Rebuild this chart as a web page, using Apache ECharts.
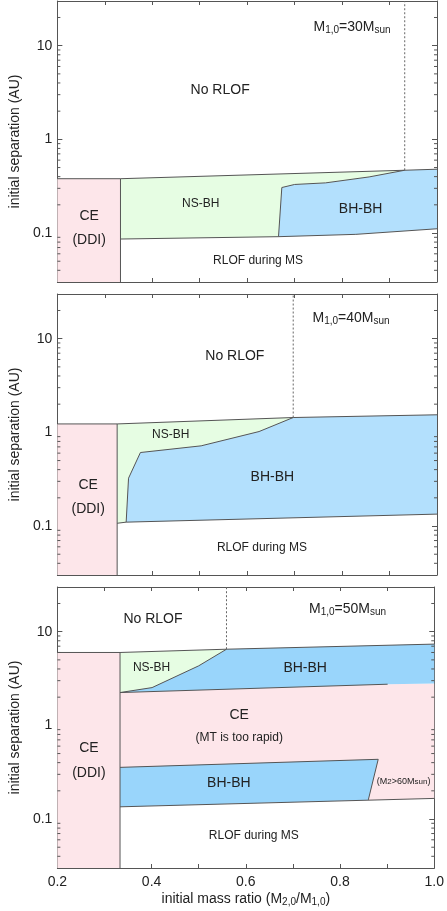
<!DOCTYPE html>
<html>
<head>
<meta charset="utf-8">
<script src="https://cdn.jsdelivr.net/npm/echarts@6/dist/echarts.min.js"></script>
<style>html,body{margin:0;padding:0;background:#fff;}#c{width:447px;height:911px;}</style>
</head>
<body>
<div id="c"></div>
<script>
// ---------- axis ranges & ticks ----------
const X_MIN = 0.2, X_MAX = 1.0, X_STEP = 0.1;
const Y_MIN = 0.03, Y_MAX = 30;
const yMinorTicks = [0.04,0.05,0.06,0.07,0.08,0.09,0.2,0.3,0.4,0.5,0.6,0.7,0.8,0.9,2,3,4,5,6,7,8,9,20];

// ---------- colours ----------
const PINK = '#fde6ea', GREEN = '#e6fde3', BLUE1 = '#b3e0fd', BLUE3 = '#99d5fb';

// ---------- Panel 1 : M1,0 = 30 Msun ----------
const ceDDI30_x = [0.2, 0.333, 0.333, 0.2];
const ceDDI30_y = [0.03, 0.03, 0.38, 0.38];
const nsbh30_x = [0.333, 0.932, 0.857, 0.765, 0.700, 0.673, 0.666, 0.333];
const nsbh30_y = [0.38, 0.468, 0.397, 0.343, 0.330, 0.306, 0.0914, 0.0863];
const bhbh30_x = [0.666, 0.673, 0.700, 0.765, 0.857, 0.932, 1.0, 1.0, 0.829];
const bhbh30_y = [0.0914, 0.306, 0.330, 0.343, 0.397, 0.468, 0.48, 0.111, 0.0968];
const upper30_x = [0.2, 0.333, 0.932, 1.0];
const upper30_y = [0.38, 0.38, 0.468, 0.48];
const lower30_x = [0.333, 0.666, 0.829, 1.0];
const lower30_y = [0.0863, 0.0914, 0.0968, 0.111];
const split30_x = [0.666, 0.673, 0.700, 0.765, 0.857, 0.932];
const split30_y = [0.0914, 0.306, 0.330, 0.343, 0.397, 0.468];
const ddiEdge30_x = [0.333, 0.333], ddiEdge30_y = [0.03, 0.38];
const dotted30_x = [0.932, 0.932], dotted30_y = [0.468, 30];
const labels30 = ['M{s|1,0}=30M{s|sun}', 'No RLOF', 'NS-BH', 'BH-BH', 'CE', '(DDI)', 'RLOF during MS'];
const labels30_x = [0.821, 0.543, 0.502, 0.839, 0.267, 0.267, 0.623];
const labels30_y = [15.9, 3.38, 0.204, 0.18, 0.152, 0.0843, 0.0504];
const labels30_size = [14, 14, 12, 14, 14, 14, 12];

// ---------- Panel 2 : M1,0 = 40 Msun ----------
const ceDDI40_x = [0.2, 0.326, 0.326, 0.2];
const ceDDI40_y = [0.03, 0.03, 1.23, 1.23];
const nsbh40_x = [0.326, 0.697, 0.625, 0.503, 0.375, 0.350, 0.345, 0.326];
const nsbh40_y = [1.23, 1.44, 1.02, 0.718, 0.609, 0.324, 0.110, 0.107];
const bhbh40_x = [0.345, 0.350, 0.375, 0.503, 0.625, 0.697, 1.0, 1.0];
const bhbh40_y = [0.110, 0.324, 0.609, 0.718, 1.02, 1.44, 1.54, 0.134];
const upper40_x = [0.2, 0.326, 0.697, 1.0];
const upper40_y = [1.23, 1.23, 1.44, 1.54];
const lower40_x = [0.326, 0.345, 1.0];
const lower40_y = [0.107, 0.110, 0.134];
const split40_x = [0.345, 0.350, 0.375, 0.503, 0.625, 0.697];
const split40_y = [0.110, 0.324, 0.609, 0.718, 1.02, 1.44];
const ddiEdge40_x = [0.326, 0.326], ddiEdge40_y = [0.03, 1.23];
const dotted40_x = [0.697, 0.697], dotted40_y = [1.44, 30];
const labels40 = ['M{s|1,0}=40M{s|sun}', 'No RLOF', 'NS-BH', 'BH-BH', 'CE', '(DDI)', 'RLOF during MS'];
const labels40_x = [0.819, 0.574, 0.439, 0.653, 0.265, 0.265, 0.631];
const labels40_y = [16.7, 6.46, 0.942, 0.330, 0.275, 0.152, 0.058];
const labels40_size = [14, 14, 12, 14, 14, 14, 12];

// ---------- Panel 3 : M1,0 = 50 Msun ----------
const ceDDI50_x = [0.2, 0.333, 0.333, 0.2];
const ceDDI50_y = [0.03, 0.03, 6.0, 6.0];
const nsbh50_x = [0.333, 0.559, 0.500, 0.401, 0.333];
const nsbh50_y = [6.0, 6.5, 4.32, 2.53, 2.24];
const bhbhTop50_x = [0.333, 0.401, 0.500, 0.559, 1.0, 1.0, 0.901];
const bhbhTop50_y = [2.24, 2.53, 4.32, 6.5, 7.37, 2.79, 2.75];
const ceMT50_x = [0.333, 0.901, 1.0, 1.0, 0.333];
const ceMT50_y = [2.24, 2.75, 2.79, 0.166, 0.135];
const bhbhLow50_x = [0.333, 0.881, 0.860, 0.333];
const bhbhLow50_y = [0.356, 0.434, 0.160, 0.135];
const upper50_x = [0.2, 0.333, 0.559, 1.0];
const upper50_y = [6.0, 6.0, 6.5, 7.37];
const split50_x = [0.333, 0.401, 0.500, 0.559];
const split50_y = [2.24, 2.53, 4.32, 6.5];
const ceTop50_x = [0.333, 0.901];
const ceTop50_y = [2.24, 2.75];
const lowBand50_x = [0.333, 0.881, 0.860];
const lowBand50_y = [0.356, 0.434, 0.160];
const lower50_x = [0.333, 1.0];
const lower50_y = [0.135, 0.166];
const ddiEdge50_x = [0.333, 0.333], ddiEdge50_y = [0.03, 6.0];
const dotted50_x = [0.559, 0.559], dotted50_y = [6.5, 30];
const labels50 = ['M{s|1,0}=50M{s|sun}', 'No RLOF', 'NS-BH', 'BH-BH', 'CE', '(MT is too rapid)', 'BH-BH', '(M{ss|2}>60M{ss|sun})', 'CE', '(DDI)', 'RLOF during MS'];
const labels50_x = [0.816, 0.403, 0.400, 0.726, 0.586, 0.586, 0.564, 0.935, 0.267, 0.267, 0.617];
const labels50_y = [17.5, 13.7, 4.08, 4.08, 1.29, 0.746, 0.244, 0.250, 0.569, 0.308, 0.066];
const labels50_size = [14, 14, 12, 14, 14, 12, 14, 9, 14, 14, 12];

// ---------- helpers ----------
const FONT = '"Liberation Sans", Arial, Helvetica, sans-serif';
const TXT = '#222';
const EDGE = '#555';

function pairs(xs, ys) { return xs.map((x, i) => [x, ys[i]]); }

function polySeries(g, xs, ys, color) {
  const pts = pairs(xs, ys);
  return {
    type: 'custom', xAxisIndex: 2 * g, yAxisIndex: 2 * g, silent: true, animation: false, z: 1,
    data: pts, encode: { x: 0, y: 1 },
    renderItem: (params, api) => {
      if (params.dataIndex !== 0) return null;
      return { type: 'polygon', shape: { points: pts.map(p => api.coord(p)) }, style: { fill: color } };
    }
  };
}

function lineSeries(g, xs, ys, dotted) {
  return {
    type: 'line', xAxisIndex: 2 * g, yAxisIndex: 2 * g, data: pairs(xs, ys),
    showSymbol: false, symbol: 'none', silent: true, animation: false, z: 3,
    lineStyle: dotted ? { color: '#666', width: 1, type: [2, 2] } : { color: EDGE, width: 1 }
  };
}

function labelSeries(g, texts, xs, ys, sizes) {
  const pts = pairs(xs, ys);
  return {
    type: 'custom', xAxisIndex: 2 * g, yAxisIndex: 2 * g, silent: true, animation: false, z: 5,
    data: pts, encode: { x: 0, y: 1 },
    renderItem: (params, api) => {
      const i = params.dataIndex;
      const p = api.coord(pts[i]);
      const fs = sizes[i];
      return {
        type: 'text', x: p[0], y: p[1],
        style: {
          text: texts[i], fontSize: fs, fontFamily: FONT, fill: TXT,
          align: 'center', verticalAlign: 'middle',
          rich: {
            s: { fontSize: Math.round(fs * 0.72), fontFamily: FONT, fill: TXT, verticalAlign: 'bottom', padding: [0, 0, -1, 0] },
            ss: { fontSize: Math.round(fs * 0.85), fontFamily: FONT, fill: TXT, verticalAlign: 'bottom' }
          }
        }
      };
    }
  };
}

function minorTickSeries(g) {
  return {
    type: 'custom', xAxisIndex: 2 * g, yAxisIndex: 2 * g, silent: true, animation: false, z: 6,
    data: yMinorTicks.map(v => [X_MIN, v]), encode: { x: 0, y: 1 },
    renderItem: (params, api) => {
      const p = api.coord([X_MIN, api.value(1)]);
      const cs = params.coordSys;
      const st = { stroke: EDGE, lineWidth: 1 };
      return {
        type: 'group', children: [
          { type: 'line', shape: { x1: cs.x, y1: p[1], x2: cs.x + 3, y2: p[1] }, style: st },
          { type: 'line', shape: { x1: cs.x + cs.width, y1: p[1], x2: cs.x + cs.width - 3, y2: p[1] }, style: st }
        ]
      };
    }
  };
}

// ---------- layout ----------
const grids = [
  { left: 45, right: 10, top: 1, height: 281 },
  { left: 45, right: 10, top: 294, height: 281 },
  { left: 45, right: 10, top: 587, height: 281 }
];

const xAxes = [], yAxes = [];
const axLine = { show: true, lineStyle: { color: EDGE, width: 1 } };
grids.forEach((gr, g) => {
  const xl = {
    gridIndex: g, type: 'value', min: X_MIN, max: X_MAX, interval: X_STEP,
    axisLine: axLine, axisTick: { show: true, inside: true, length: 4, lineStyle: { color: EDGE } },
    splitLine: { show: false }
  };
  xAxes.push(Object.assign({}, xl, {
    position: 'bottom',
    axisLabel: {
      show: g === 2, fontSize: 14, color: TXT, fontFamily: FONT, margin: 7,
      formatter: v => (Math.round(v * 10) % 2 === 0 ? v.toFixed(1) : '')
    },
    name: g === 2 ? 'initial mass ratio (M{s|2,0}/M{s|1,0})' : '',
    nameLocation: 'middle', nameGap: 24,
    nameTextStyle: { fontSize: 14, color: TXT, fontFamily: FONT,
      rich: { s: { fontSize: 10, color: TXT, fontFamily: FONT, verticalAlign: 'bottom', padding: [0, 0, -1, 0] } } }
  }));
  xAxes.push(Object.assign({}, xl, { position: 'top', axisLabel: { show: false } }));
  const yl = {
    gridIndex: g, type: 'log', logBase: 10, min: Y_MIN, max: Y_MAX,
    axisLine: axLine, axisTick: { show: true, inside: true, length: 5, lineStyle: { color: EDGE } },
    splitLine: { show: false }, minorTick: { show: false }
  };
  yAxes.push(Object.assign({}, yl, {
    position: 'left',
    axisLabel: {
      show: true, fontSize: 14, color: TXT, fontFamily: FONT, margin: 5,
      showMinLabel: false, showMaxLabel: false,
      formatter: v => {
        const l = Math.log10(v), r = Math.round(l);
        if (Math.abs(l - r) > 1e-6) return '';
        return r >= 0 ? String(Math.pow(10, r)) : (Math.pow(10, r)).toFixed(-r);
      }
    },
    name: 'initial separation (AU)', nameLocation: 'middle', nameGap: 31,
    nameTextStyle: { fontSize: 14, color: TXT, fontFamily: FONT }
  }));
  yAxes.push(Object.assign({}, yl, { position: 'right', axisLabel: { show: false } }));
});

const series = [
  // panel 1
  polySeries(0, ceDDI30_x, ceDDI30_y, PINK),
  polySeries(0, nsbh30_x, nsbh30_y, GREEN),
  polySeries(0, bhbh30_x, bhbh30_y, BLUE1),
  lineSeries(0, upper30_x, upper30_y),
  lineSeries(0, lower30_x, lower30_y),
  lineSeries(0, split30_x, split30_y),
  lineSeries(0, ddiEdge30_x, ddiEdge30_y),
  lineSeries(0, dotted30_x, dotted30_y, true),
  labelSeries(0, labels30, labels30_x, labels30_y, labels30_size),
  minorTickSeries(0),
  // panel 2
  polySeries(1, ceDDI40_x, ceDDI40_y, PINK),
  polySeries(1, nsbh40_x, nsbh40_y, GREEN),
  polySeries(1, bhbh40_x, bhbh40_y, BLUE1),
  lineSeries(1, upper40_x, upper40_y),
  lineSeries(1, lower40_x, lower40_y),
  lineSeries(1, split40_x, split40_y),
  lineSeries(1, ddiEdge40_x, ddiEdge40_y),
  lineSeries(1, dotted40_x, dotted40_y, true),
  labelSeries(1, labels40, labels40_x, labels40_y, labels40_size),
  minorTickSeries(1),
  // panel 3
  polySeries(2, ceDDI50_x, ceDDI50_y, PINK),
  polySeries(2, ceMT50_x, ceMT50_y, PINK),
  polySeries(2, nsbh50_x, nsbh50_y, GREEN),
  polySeries(2, bhbhTop50_x, bhbhTop50_y, BLUE3),
  polySeries(2, bhbhLow50_x, bhbhLow50_y, BLUE3),
  lineSeries(2, upper50_x, upper50_y),
  lineSeries(2, split50_x, split50_y),
  lineSeries(2, ceTop50_x, ceTop50_y),
  lineSeries(2, lowBand50_x, lowBand50_y),
  lineSeries(2, lower50_x, lower50_y),
  lineSeries(2, ddiEdge50_x, ddiEdge50_y),
  lineSeries(2, dotted50_x, dotted50_y, true),
  labelSeries(2, labels50, labels50_x, labels50_y, labels50_size),
  minorTickSeries(2)
];

const chart = echarts.init(document.getElementById('c'), null, { renderer: 'canvas' });
chart.setOption({
  animation: false,
  backgroundColor: '#fff',
  textStyle: { fontFamily: FONT },
  grid: grids,
  xAxis: xAxes,
  yAxis: yAxes,
  series: series
});
</script>
</body>
</html>
